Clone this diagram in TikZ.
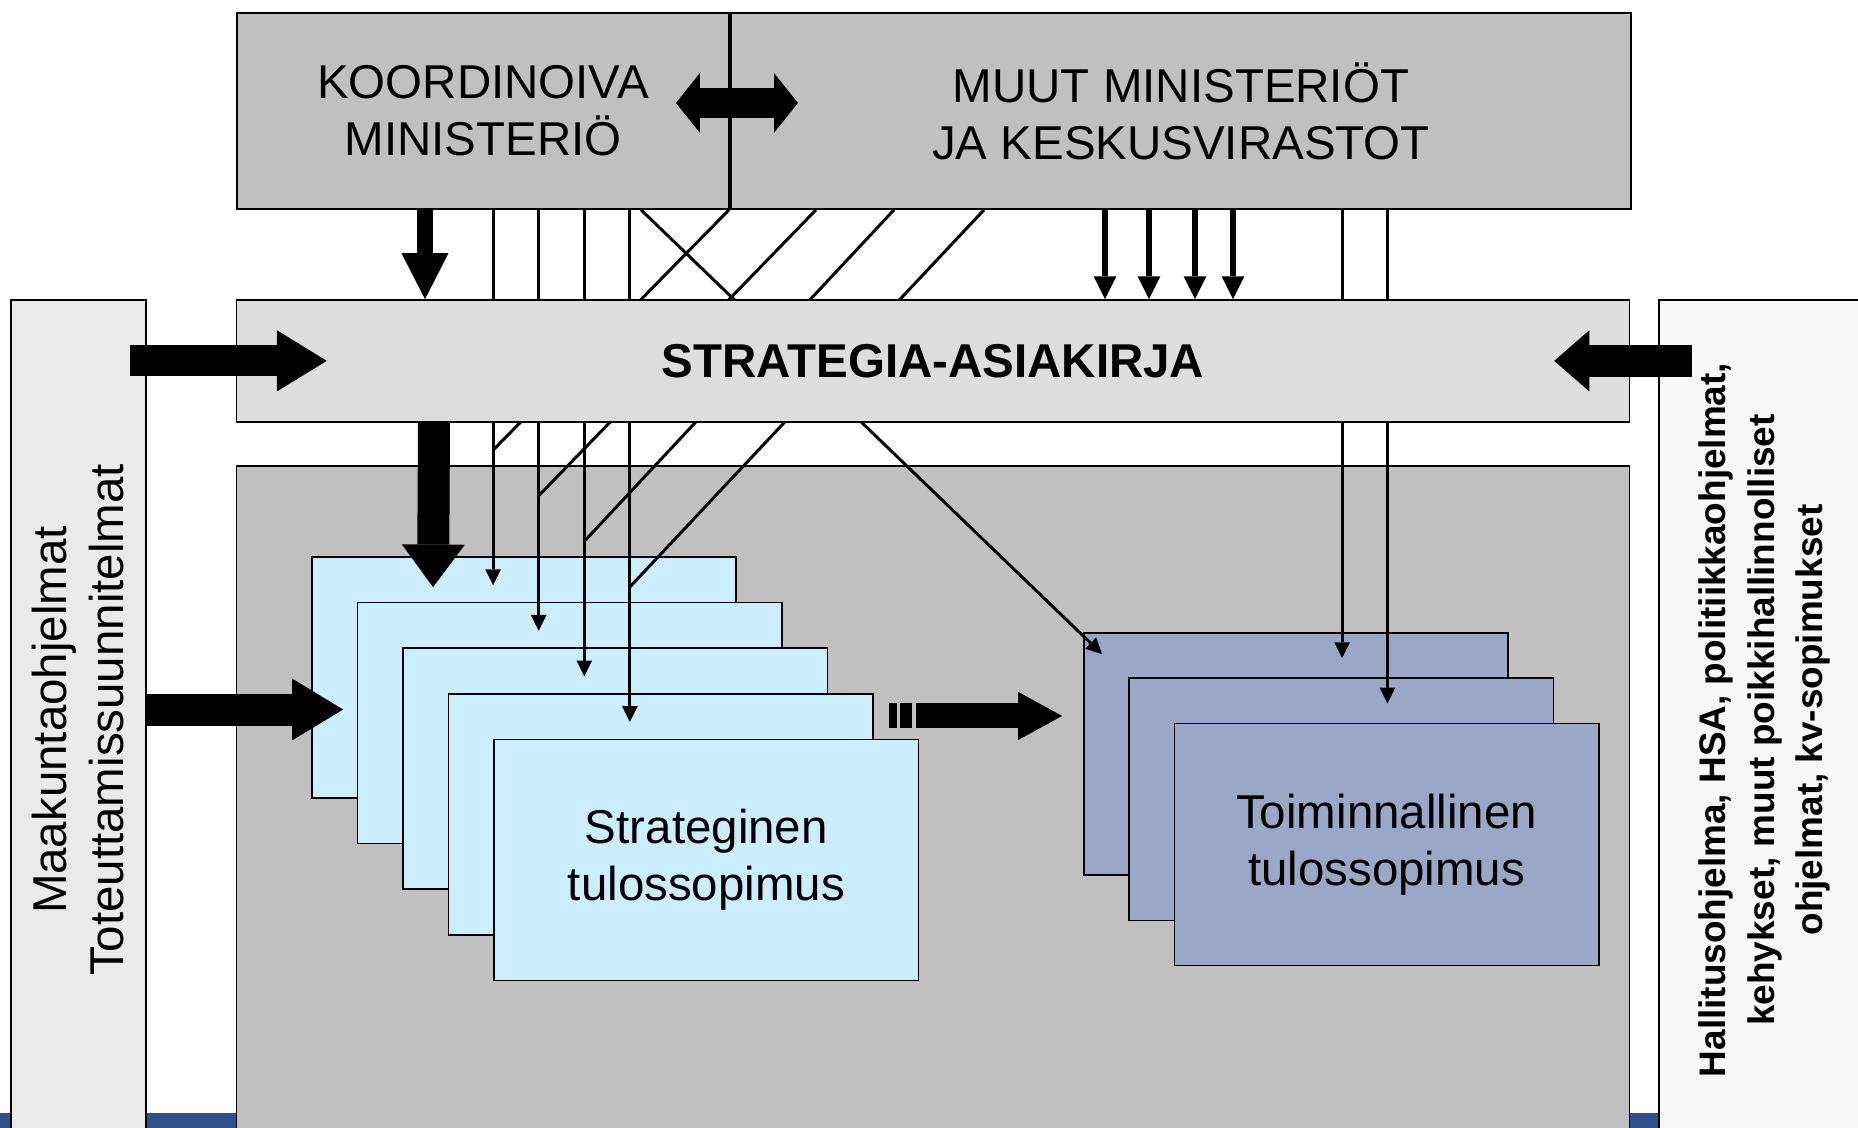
\documentclass[tikz,border=0pt]{standalone}
\usepackage{fontspec}
\setmainfont{Liberation Sans}
\usetikzlibrary{arrows.meta}
\definecolor{topgray}{RGB}{192,192,192}
\definecolor{docgray}{RGB}{221,221,221}
\definecolor{leftgray}{RGB}{234,234,234}
\definecolor{rightgray}{RGB}{247,247,247}
\definecolor{stratblue}{RGB}{204,236,255}
\definecolor{opblue}{RGB}{153,168,198}
\definecolor{bandblue}{RGB}{47,80,137}

\begin{document}
\begin{tikzpicture}[x=0.01cm,y=-0.01cm,
        box/.style={draw,line width=0.45pt,inner sep=0pt,align=center,
          font=\fontsize{13.5}{16.2}\selectfont},
        link/.style={line width=0.85pt},
        thintip/.style={link,arrows={-Triangle[width=4.5pt,length=4.5pt,line width=0pt]}},
        fatarrow/.style n args={3}{line width=#1,
          arrows={-Triangle[width=#2,length=#3,line width=0pt]}},
        fatboth/.style n args={3}{line width=#1,
          arrows={Triangle[width=#2,length=#3,line width=0pt]-Triangle[width=#2,length=#3,line width=0pt]}}]
  \useasboundingbox (0,0) rectangle (1858,1128);
  \fill[bandblue] (0,1113) rectangle (1858,1128);
        \node[box,fill=leftgray,rotate=90,minimum width=8.4cm,minimum height=1.35cm] (maak) at (78.5,720)
          {Maakuntaohjelmat\\Toteuttamissuunnitelmat};
        \node[box,fill=rightgray,rotate=90,minimum width=8.4cm,minimum height=2.11cm,
          font=\fontsize{10.5}{13.7}\selectfont\bfseries] (hall) at (1764.5,720)
          {Hallitusohjelma, HSA, politiikkaohjelmat,\\kehykset, muut poikkihallinnolliset\\ohjelmat, kv-sopimukset};
        \node[box,fill=topgray,minimum width=13.92cm,minimum height=6.74cm] (core) at (933,803.3) {};
        \node[box,fill=topgray,minimum width=4.92cm,minimum height=1.96cm] (koord) at (483,111)
          {KOORDINOIVA\\MINISTERIÖ};
        \node[box,fill=topgray,minimum width=9cm,minimum height=1.96cm,anchor=west] (muut) at (koord.east)
          {MUUT MINISTERIÖT\\JA KESKUSVIRASTOT};
        \foreach \i in {1,...,4}
          \node[box,fill=stratblue,minimum width=4.24cm,minimum height=2.41cm] (s\i)
            at ({524+45.6*(\i-1)},{677.5+45.6*(\i-1)}) {};
        \node[box,fill=stratblue,minimum width=4.24cm,minimum height=2.41cm] (s5) at (706.4,859.9)
          {Strateginen\\tulossopimus};
        \foreach \i in {1,2}
          \node[box,fill=opblue,minimum width=4.24cm,minimum height=2.42cm] (op\i)
            at ({1296+45.3*(\i-1)},{754+45.3*(\i-1)}) {};
        \node[box,fill=opblue,minimum width=4.24cm,minimum height=2.42cm] (op3) at (1386.6,844.6)
          {Toiminnallinen\\tulossopimus};
        % thin links, partly hidden by the document box
        \foreach \k/\sx in {1/729,2/816,3/894,4/984}{
          \coordinate (hit\k) at ([shift={(182,29)}]s\k.north west);
          \coordinate (join\k) at ([shift={(182,-106)}]s\k.north west);
          \draw[thintip] (koord.south -| hit\k) -- (hit\k);
          \draw[link] (\sx,0 |- muut.south) -- (join\k);
        }
        \draw[thintip] (koord.south -| 641,0) -- ([shift={(19,22)}]op1.north west);
        \foreach \i in {1,2}{
          \coordinate (ophit\i) at ([shift={(259,26)}]op\i.north west);
          \draw[thintip] (muut.south -| ophit\i) -- (ophit\i);
        }
        \node[box,fill=docgray,minimum width=13.92cm,minimum height=1.217cm,
          font=\fontsize{13.5}{16.2}\selectfont\bfseries] (doc) at (933,360.85) {STRATEGIA-ASIAKIRJA};
        \foreach \mx in {1105,1149,1195,1233}
          \draw[fatarrow={1.6pt}{6.5pt}{6.5pt}] (muut.south -| \mx,0) -- (doc.north -| \mx,0);
        \draw[fatarrow={4.3pt}{13.4pt}{13.1pt}] (koord.south -| 425,0) -- (doc.north -| 425,0);
        \draw[fatarrow={9.1pt}{17.9pt}{12.1pt}] (doc.south -| 434,0) -- ([shift={(122,31)}]s1.north west);
        \draw[fatarrow={8.8pt}{17.4pt}{14.2pt}] ([shift={(-106,0)}]doc.west) -- ([shift={(91,0)}]doc.west);
        \draw[fatarrow={9.1pt}{17.6pt}{14.5pt}] ([shift={(-166,32)}]s1.west) -- ([shift={(32,32)}]s1.west);
        \draw[fatarrow={9.1pt}{17.4pt}{10pt}] ([shift={(62,0)}]doc.east) -- ([shift={(-76,0)}]doc.east);
        \draw[fatboth={8.5pt}{17pt}{6.8pt}] ([shift={(-54,-8)}]koord.east) -- ([shift={(68,-8)}]koord.east);
        \coordinate (gap) at ([shift={(15,23)}]s4.north east);
        \fill ([shift={(0,-12.5)}]gap) rectangle ++(8,25);
        \fill ([shift={(11,-12.5)}]gap) rectangle ++(12,25);
        \draw[fatarrow={7.1pt}{13.7pt}{12.5pt},shorten >=0.21cm] ([shift={(27,0)}]gap) -- (gap -| op1.west);
\end{tikzpicture}
\end{document}
